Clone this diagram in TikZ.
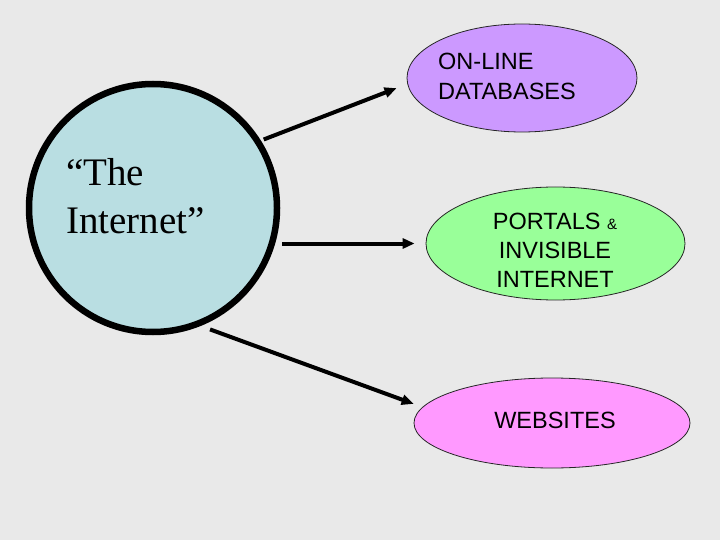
\documentclass[tikz,border=0pt]{standalone}
\usepackage{fontspec}
\setmainfont{Liberation Serif}
\newfontfamily\sansf{Liberation Sans}
\usetikzlibrary{arrows.meta,shapes.geometric}
\definecolor{bg}{HTML}{E9E9E9}
\definecolor{circfill}{HTML}{B9DEE2}
\definecolor{dbfill}{HTML}{CC99FF}
\definecolor{ptfill}{HTML}{99FF99}
\definecolor{wsfill}{HTML}{FF99FF}
\begin{document}
\begin{tikzpicture}[x=1pt,y=-1pt,
  oval/.style={ellipse, draw=black!85, line width=0.8pt, inner sep=0},
  conn/.style={line width=4pt, -{Triangle[length=12pt,width=10pt]}},
  lbl/.style={font=\sansf\fontsize{23.5}{30}\selectfont, inner sep=0, text=black}]
\fill[bg] (0,0) rectangle (720,540);
\useasboundingbox (0,0) rectangle (720,540);
% central circle
\node[circle, draw=black, line width=6.5pt, fill=circfill, minimum size=248pt, inner sep=0] (circ) at (153,208) {};
\node[font=\fontsize{39}{48}\selectfont, align=left, anchor=west, inner sep=0] (inet) at (66,196) {“The\\Internet”};
% ellipses
\node[oval, fill=dbfill, minimum width=230pt, minimum height=108pt] (db) at (522,78) {};
\node[oval, fill=ptfill, minimum width=259pt, minimum height=113pt] (pt) at (555.5,243.5) {};
\node[oval, fill=wsfill, minimum width=276pt, minimum height=90pt] (ws) at (552,423) {};
% labels
\node[lbl, align=left, anchor=west] (dbt) at (438,76) {ON-LINE\\DATABASES};
\node[lbl, align=center, font=\sansf\fontsize{23.5}{29}\selectfont] (ptt) at (555,250) {PORTALS {\fontsize{15}{15}\selectfont\&}\\INVISIBLE\\INTERNET};
\node[lbl] (wst) at (555,420.5) {WEBSITES};
% connectors
\draw[conn, shorten <=3pt, shorten >=11.5pt] (circ.32.5) -- (db.183.6);
\draw[conn, shorten <=2pt, shorten >=11pt] (circ.east |- pt.west) -- (pt.west);
\draw[conn, shorten <=10pt, shorten >=9.3pt] (circ.-68) -- (ws.173.5);
\end{tikzpicture}
\end{document}
